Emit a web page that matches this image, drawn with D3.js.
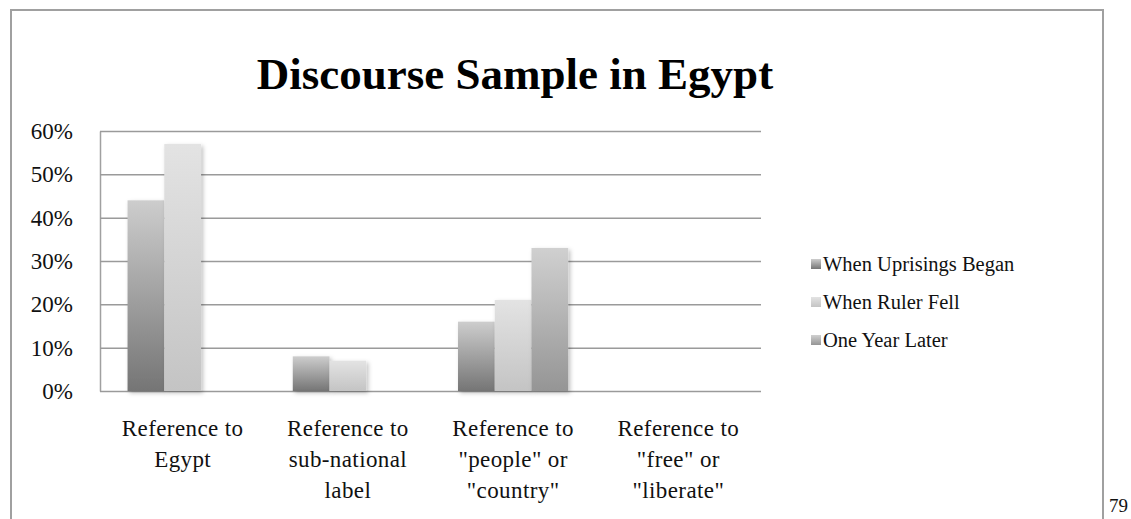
<!DOCTYPE html>
<html>
<head>
<meta charset="utf-8">
<script src="https://cdn.jsdelivr.net/npm/d3@7"></script>
<style>
  body { margin: 0; background: #fff; }
  svg { display: block; }
</style>
</head>
<body>
<div id="chart"></div>
<script>
// chart data
const categories = ['Egypt', 'sub-national', 'people', 'free'];
const categoryLabels = [
  ['Reference to', 'Egypt'],
  ['Reference to', 'sub-national', 'label'],
  ['Reference to', '"people" or', '"country"'],
  ['Reference to', '"free" or', '"liberate"']
];
const seriesNames = ['When Uprisings Began', 'When Ruler Fell', 'One Year Later'];
const uprisingsBegan = [0.44, 0.08, 0.16, 0];
const rulerFell = [0.57, 0.07, 0.21, 0];
const oneYearLater = [0, 0, 0.33, 0];
const yTicks = [0, 0.1, 0.2, 0.3, 0.4, 0.5, 0.6];
const title = 'Discourse Sample in Egypt';
const pageNumber = '79';

const seriesValues = [uprisingsBegan, rulerFell, oneYearLater];
const gradients = [
  ['#cdcdcd', '#757575'],
  ['#e3e3e3', '#c4c4c4'],
  ['#d0d0d0', '#959595']
];
const serif = "'Liberation Serif', 'Times New Roman', serif";

const W = 1131, H = 519;
const margin = { top: 131, right: 370, bottom: 128, left: 100 };
const plotW = W - margin.left - margin.right;
const plotH = H - margin.top - margin.bottom;

const svg = d3.select('#chart').append('svg')
  .attr('width', W)
  .attr('height', H);

const defs = svg.append('defs');
gradients.forEach((c, i) => {
  const lg = defs.append('linearGradient')
    .attr('id', 'grad' + i)
    .attr('x1', 0).attr('y1', 0).attr('x2', 0).attr('y2', 1);
  lg.append('stop').attr('offset', '0%').attr('stop-color', c[0]);
  lg.append('stop').attr('offset', '100%').attr('stop-color', c[1]);
});
const shadow = defs.append('filter').attr('id', 'shadow')
  .attr('x', '-20%').attr('y', '-10%').attr('width', '150%').attr('height', '130%');
shadow.append('feDropShadow')
  .attr('dx', 2).attr('dy', 2).attr('stdDeviation', 2)
  .attr('flood-color', '#000').attr('flood-opacity', 0.25);

// outer frame
svg.append('path')
  .attr('d', 'M11,' + (H + 5) + ' L11,10 L1103,10 L1103,' + (H + 5))
  .attr('fill', 'none')
  .attr('stroke', '#a0a0a0')
  .attr('stroke-width', 2);

svg.append('text')
  .attr('x', 515)
  .attr('y', 89)
  .attr('text-anchor', 'middle')
  .style('font-family', serif)
  .style('font-weight', 'bold')
  .style('font-size', '45px')
  .attr('fill', '#000')
  .text(title);

const g = svg.append('g')
  .attr('transform', 'translate(' + margin.left + ',' + margin.top + ')');

const x0 = d3.scaleBand()
  .domain(categories)
  .range([0, plotW])
  .paddingInner(0.333)
  .paddingOuter(0.1667);

const x1 = d3.scaleBand()
  .domain(seriesNames)
  .range([0, x0.bandwidth()]);

const y = d3.scaleLinear()
  .domain([0, 0.6])
  .range([plotH, 0]);

// gridlines + y labels
const yAxis = g.append('g')
  .attr('class', 'y axis')
  .call(d3.axisLeft(y)
    .tickValues(yTicks)
    .tickFormat(d3.format('.0%'))
    .tickSizeInner(-plotW)
    .tickSizeOuter(0)
    .tickPadding(27));
yAxis.select('.domain')
  .attr('stroke', '#a0a0a0')
  .attr('stroke-width', 1.5);
yAxis.selectAll('.tick line')
  .attr('stroke', '#9a9a9a')
  .attr('stroke-width', 1.5);
yAxis.selectAll('.tick text')
  .style('font-family', serif)
  .style('font-size', '23px')
  .attr('fill', '#111');

// bars
const groups = g.selectAll('.cat')
  .data(categories)
  .enter().append('g')
  .attr('class', 'cat')
  .attr('transform', d => 'translate(' + x0(d) + ',0)');

groups.selectAll('rect')
  .data((d, ci) => seriesNames.map((s, si) => ({ s, si, v: seriesValues[si][ci] })).filter(b => b.v > 0))
  .enter().append('rect')
  .attr('x', d => x1(d.s))
  .attr('y', d => y(d.v))
  .attr('width', x1.bandwidth())
  .attr('height', d => y(0) - y(d.v))
  .attr('fill', d => 'url(#grad' + d.si + ')')
  .attr('filter', 'url(#shadow)');

// category labels
const catLabels = g.selectAll('.catLabel')
  .data(categories)
  .enter().append('text')
  .attr('class', 'catLabel')
  .attr('text-anchor', 'middle')
  .style('font-family', serif)
  .style('font-size', '23px')
  .style('letter-spacing', '0.4px')
  .attr('fill', '#111')
  .attr('transform', d => 'translate(' + (x0(d) + x0.bandwidth() / 2) + ',' + (plotH + 45) + ')');

catLabels.selectAll('tspan')
  .data((d, i) => categoryLabels[i])
  .enter().append('tspan')
  .attr('x', 0)
  .attr('y', (d, i) => i * 31)
  .text(d => d);

// legend
const legend = svg.append('g')
  .attr('transform', 'translate(811,264)');
const item = legend.selectAll('.item')
  .data(seriesNames)
  .enter().append('g')
  .attr('transform', (d, i) => 'translate(0,' + i * 38 + ')');
item.append('rect')
  .attr('x', 0).attr('y', -5)
  .attr('width', 10).attr('height', 10)
  .attr('fill', (d, i) => 'url(#grad' + i + ')');
item.append('text')
  .attr('x', 12)
  .attr('y', 7)
  .style('font-family', serif)
  .style('font-size', '20.5px')
  .attr('fill', '#111')
  .text(d => d);

svg.append('text')
  .attr('x', 1109)
  .attr('y', 512)
  .style('font-family', serif)
  .style('font-size', '19px')
  .attr('fill', '#111')
  .text(pageNumber);
</script>
</body>
</html>
